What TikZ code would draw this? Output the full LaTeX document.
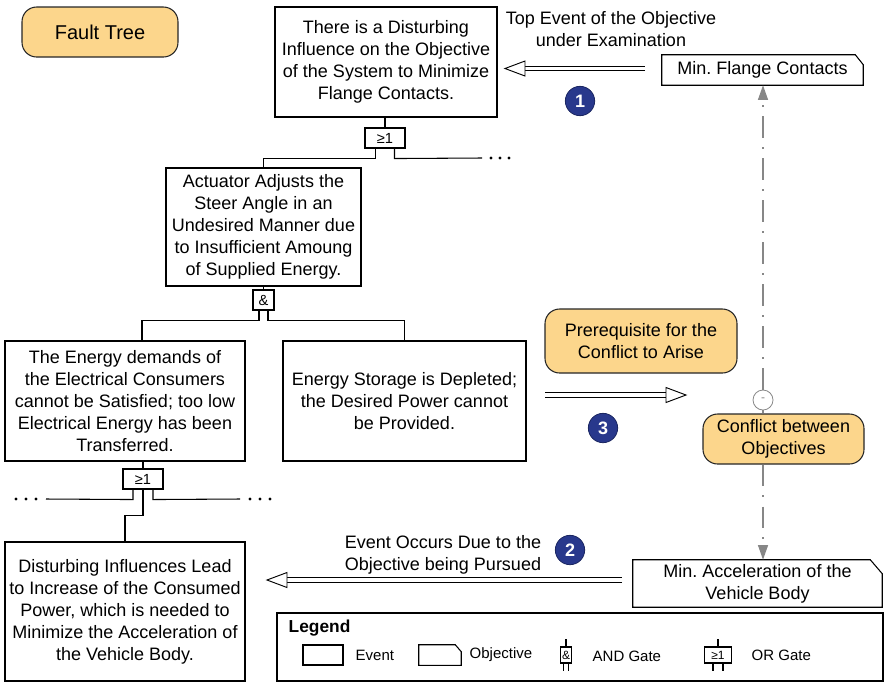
\documentclass[tikz,border=0pt]{standalone}
\usepackage{fontspec}
\setmainfont{Liberation Sans}
\usetikzlibrary{arrows.meta,calc}
\frenchspacing

\definecolor{paleorange}{RGB}{252,214,140}
\definecolor{badgeblue}{RGB}{40,56,140}
\definecolor{linkgray}{RGB}{135,135,135}

\newcommand{\mainfs}{\fontsize{13.5}{16.5}\selectfont}
\newcommand{\titlefs}{\fontsize{15}{18}\selectfont}
\newcommand{\gatefs}{\fontsize{11}{13}\selectfont}
\newcommand{\badgefs}{\fontsize{13.5}{16}\selectfont\bfseries}
\newcommand{\legfs}{\fontsize{11.25}{13}\selectfont}
\newcommand{\legtitlefs}{\fontsize{13}{15}\selectfont\bfseries}
\newcommand{\legsmall}{\fontsize{9}{10}\selectfont}

% objective frame: rectangle with a clipped upper right corner
\newcommand{\objframe}[3]{%
  \draw[wire] (#1.south west) -- (#1.north west) -- ($(#1.north east)+(-#2,0)$)
    -- ($(#1.north east)+(0,#3)$) -- (#1.south east) -- cycle;}
% hollow head of a double arrow; #2 = 1 points left, -1 points right
\newcommand{\openhead}[2]{%
  \draw[line width=0.7pt, fill=white] #1 -- ++(#2*20,-7.5) -- ++(0,15) -- cycle;}
% three dots continuing a branch, starting a little past its end
\newcommand{\dotrow}[2]{%
  \foreach \k in {1,2,3}{\fill ($#1+(\k*#2,0)$) circle (1.7);}}

\begin{document}
\begin{tikzpicture}[x=0.75pt,y=-0.75pt,
  every node/.style={font=\mainfs},
  wire/.style={line width=0.8pt},
  evt/.style={draw, line width=0.8pt, fill=white, inner sep=0pt, align=center},
  objv/.style={inner sep=0pt, align=center},
  gate/.style={draw, line width=0.8pt, fill=white, inner sep=0pt, minimum height=15pt, font=\gatefs},
  note/.style={draw=black!85, line width=0.8pt, fill=paleorange, rounded corners=11pt, inner sep=0pt, align=center},
  badge/.style={circle, fill=badgeblue, draw=badgeblue!70!black, line width=0.6pt, text=white, font=\badgefs, minimum size=22pt, inner sep=0pt},
  link/.style={draw=linkgray, line width=1pt, dash pattern=on 16pt off 7pt on 1.5pt off 7pt},
  linktip/.style={-{Triangle[length=11pt,width=7.5pt,fill=linkgray]}},
  dbl/.style={double, double distance=2.6pt, line width=0.7pt},
]
\useasboundingbox (0,0) rectangle (884,683);

% title
\node[note, minimum width=117pt, minimum height=37.5pt, font=\titlefs] (ft) at (100,32) {Fault Tree};

% fault tree events and gates
\node[evt, minimum width=166.5pt, minimum height=82.5pt] (top) at (386,62)
  {There is a Disturbing\\Influence on the Objective\\of the System to Minimize\\Flange Contacts.};
\node[gate, minimum width=30pt] (g1) at (385,138) {≥1};
\node[evt, minimum width=146.25pt, minimum height=88.5pt] (act) at (263.5,227)
  {Actuator Adjusts the\\Steer Angle in an\\Undesired Manner due\\to Insufficient Amoung\\of Supplied Energy.};
\node[gate, minimum width=15.75pt] (g2) at (263.5,300) {\&};
\node[evt, minimum width=180pt, minimum height=90pt] (e1) at (125,401)
  {The Energy demands of\\the Electrical Consumers\\cannot be Satisfied; too low\\Electrical Energy has been\\Transferred.};
\node[evt, minimum width=182.25pt, minimum height=90pt] (e2) at (404.5,401)
  {Energy Storage is Depleted;\\the Desired Power cannot\\be Provided.};
\node[gate, minimum width=30pt] (g3) at (143,479) {≥1};
\node[evt, minimum width=180pt, minimum height=104.25pt] (e3) at (125,611.5)
  {Disturbing Influences Lead\\to Increase of the Consumed\\Power, which is needed to\\Minimize the Acceleration of\\the Vehicle Body.};

% gate wiring
\coordinate (d1) at (482,158);
\coordinate (d2) at (46,499);
\coordinate (d3) at (240,499);
\draw[wire] (g1.north |- top.south) -- (g1.north);
\draw[wire] ($(g1.south)+(-9.5,0)$) -- ++(0,10) -| (act.north);
\draw[wire] ($(g1.south)+(9.5,0)$) -- ++(0,10) -- (d1);
\dotrow{(d1)}{9}
\draw[wire] (act.south) -- (g2.north);
\draw[wire] ($(g2.south)+(-4.5,0)$) -- ++(0,10) -| ($(e1.north)+(17,0)$);
\draw[wire] ($(g2.south)+(4.5,0)$) -- ++(0,10) -| (e2.north);
\draw[wire] (g3.north |- e1.south) -- (g3.north);
\draw[wire] ($(g3.south)+(-10,0)$) -- ++(0,10) -- (d2);
\dotrow{(d2)}{-10}
\draw[wire] ($(g3.south)+(10,0)$) -- ++(0,10) -- (d3);
\dotrow{(d3)}{10}
\draw[wire] (g3.south) -- ++(0,26) -| (e3.north);

% objectives
\node[objv, minimum width=150.75pt, minimum height=22.5pt] (objF) at (762.5,70) {Min. Flange Contacts};
\objframe{objF}{8}{10}
\node[objv, minimum width=186.75pt, minimum height=35.25pt] (objA) at (757.5,583.5) {Min. Acceleration of the\\Vehicle Body};
\objframe{objA}{12}{14}

% annotations
\node[align=center] (lbl1) at (611,29) {Top Event of the Objective\\under Examination};
\node[align=center] (lbl2) at (443,555) {Event Occurs Due to the\\Objective being Pursued};
\node[badge] (b1) at (580,101) {1};
\node[badge] (b2) at (570,550) {2};
\node[badge] (b3) at (603,428) {3};
\node[note, minimum width=144pt, minimum height=48pt] (pre) at (641,341) {Prerequisite for the\\Conflict to Arise};
\node[note, minimum width=120.75pt, minimum height=37.5pt] (conf) at (783.5,439) {Conflict between\\Objectives};

% conflict link between the two objectives
\node[circle, draw=linkgray, line width=0.6pt, fill=white, minimum size=15pt, inner sep=0pt,
      text=linkgray, font=\legsmall] (mc) at (763,400) {-};
\draw[link, linktip] (mc.north) -- (mc |- objF.south);
\draw[draw=linkgray, line width=1pt] (mc.south) -- (mc |- conf.north);
\draw[link, linktip] (mc |- conf.south) -- (mc |- objA.north);

% double arrows
\coordinate (a1s) at (645,68.5);
\coordinate (a1e) at (505,68.5);
\draw[dbl] (a1s) -- ($(a1e)+(20,0)$);
\openhead{(a1e)}{1}
\coordinate (a2s) at (622,580);
\coordinate (a2e) at (267,580);
\draw[dbl] (a2s) -- ($(a2e)+(20,0)$);
\openhead{(a2e)}{1}
\coordinate (a3s) at (545,395);
\coordinate (a3e) at (686,395);
\draw[dbl] (a3s) -- ($(a3e)+(-20,0)$);
\openhead{(a3e)}{-1}

% legend
\node[draw, line width=0.8pt, minimum width=454.5pt, minimum height=51pt, inner sep=0pt] (leg) at (580,647) {};
\node[anchor=west, font=\legtitlefs] (legt) at (284,628) {Legend};
\node[evt, minimum width=30pt, minimum height=15pt] (lev) at (323,655) {};
\node[anchor=west, font=\legfs] (levt) at (351,655) {Event};
\node[objv, minimum width=31.5pt, minimum height=15pt] (lob) at (440,655) {};
\objframe{lob}{6}{7}
\node[anchor=west, font=\legfs] (lobt) at (465,655) {Objective};
\node[gate, minimum width=8.5pt, minimum height=12pt, font=\legsmall] (land) at (566,655) {\&};
\draw[wire] (land.north) -- ++(0,-7);
\draw[wire] ($(land.south)+(-2.5,0)$) -- ++(0,7);
\draw[wire] ($(land.south)+(2.5,0)$) -- ++(0,7);
\node[anchor=west, font=\legfs] (landt) at (588,656) {AND Gate};
\node[gate, minimum width=20.25pt, minimum height=12pt, font=\legsmall] (lor) at (718,655) {≥1};
\draw[wire] (lor.north) -- ++(0,-7);
\draw[wire] ($(lor.south)+(-5,0)$) -- ++(0,7);
\draw[wire] ($(lor.south)+(5,0)$) -- ++(0,7);
\node[anchor=west, font=\legfs] (lort) at (747,655) {OR Gate};
\end{tikzpicture}
\end{document}
